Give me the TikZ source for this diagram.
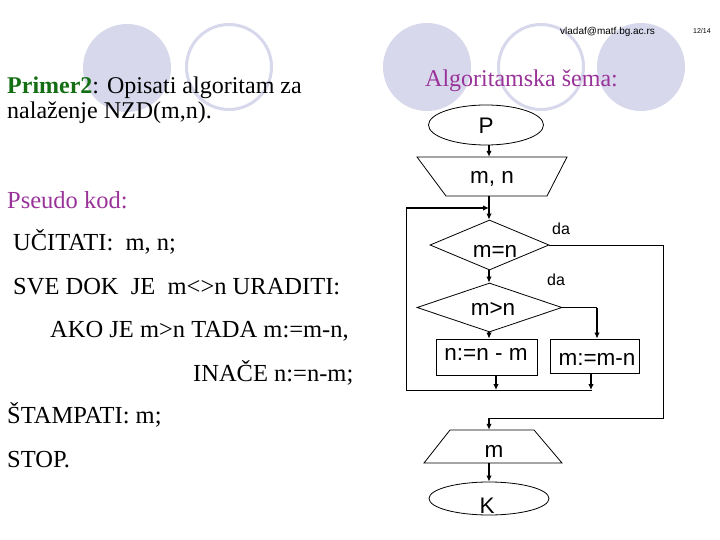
\documentclass[tikz,border=0pt]{standalone}
\usepackage{fontspec}
\setmainfont{Liberation Serif}
\setsansfont{Liberation Sans}
\usetikzlibrary{shapes.geometric,arrows.meta}
\definecolor{circ}{RGB}{216,216,237}
\definecolor{purp}{RGB}{153,51,153}
\definecolor{grn}{RGB}{20,110,20}
\begin{document}
\begin{tikzpicture}[x=1pt,y=-1pt,
  flow/.style={draw, line width=0.8pt, inner sep=0pt},
  ftext/.style={font=\sffamily\fontsize{22.5}{22.5}\selectfont, anchor=base, inner sep=0pt},
  datext/.style={font=\sffamily\fontsize{16}{16}\selectfont, anchor=base, inner sep=0pt},
  ptext/.style={font=\fontsize{24.5}{24.5}\selectfont, anchor=base west, inner sep=0pt},
  arr/.style={-{Latex[length=6pt,width=5.5pt]}, line width=1.4pt},
  ln/.style={line width=0.8pt}]
\useasboundingbox (0,0) rectangle (720,540);
% decorative circles
\fill[circ] (127,68) circle[radius=44];
\draw[circ, line width=3pt] (229,67) circle[radius=42.5];
\fill[circ] (427,67) circle[radius=44];
\draw[circ, line width=3pt] (541,67) circle[radius=42.5];
\fill[circ] (641,67) circle[radius=44];
% header
\node[font=\sffamily\fontsize{10}{10}\selectfont, anchor=base west, inner sep=0pt] (mail) at (560,35) {vladaf@matf.bg.ac.rs};
\node[font=\sffamily\fontsize{7}{7}\selectfont, anchor=base west, inner sep=0pt] (pg) at (693,34) {12/14};
% left text
\node[ptext, font=\fontsize{24}{24}\selectfont] (t1) at (7,94) {{\color{grn}\bfseries Primer2}: Opisati algoritam za};
\node[ptext, font=\fontsize{24}{24}\selectfont] (t2) at (7,119) {nalaženje NZD(m,n).};
\node[ptext, text=purp] (t3) at (7,208) {Pseudo kod:};
\node[ptext] (t4) at (13,251) {UČITATI:\ \ m, n;};
\node[ptext] (t5) at (13,294) {SVE DOK\ \ JE\ \ m<>n URADITI:};
\node[ptext] (t6) at (50,337) {AKO JE m>n TADA m:=m-n,};
\node[ptext] (t7) at (193,381) {INAČE n:=n-m;};
\node[ptext] (t8) at (7,423) {ŠTAMPATI: m;};
\node[ptext] (t9) at (7,467) {STOP.};
\node[ptext, font=\fontsize{24}{24}\selectfont, text=purp] (t10) at (425,87) {Algoritamska šema:};
% flowchart shapes
\node[flow, ellipse, minimum width=115pt, minimum height=40pt] (P) at (486,125) {};
\node[inner sep=0pt, minimum width=150pt, minimum height=39pt] (mn) at (492,176.5) {};
\draw[ln] (417,157) -- (567,157) -- (547,196) -- (446,196) -- cycle;
\node[flow, diamond, minimum width=119pt, minimum height=50pt] (d1) at (489.5,245) {};
\node[flow, diamond, minimum width=145pt, minimum height=49pt] (d2) at (489.5,307.5) {};
\node[flow, rectangle, minimum width=101pt, minimum height=36pt] (bn) at (486.5,357) {};
\node[flow, rectangle, minimum width=89pt, minimum height=34pt] (bm) at (594.5,356) {};
\node[inner sep=0pt, minimum width=138pt, minimum height=33pt] (tm) at (493,446.5) {};
\draw[ln] (450,430) -- (534,430) -- (562,463) -- (424,463) -- cycle;
\node[flow, ellipse, minimum width=120pt, minimum height=33pt] (K) at (489,498.5) {};
% texts in flowchart
\node[ftext] (Pt) at (486,134) {P};
\node[ftext] (mnt) at (492,184) {m, n};
\node[ftext] (d1t) at (495,257) {m=n};
\node[ftext] (d2t) at (493,315) {m>n};
\node[ftext] (bnt) at (486,360) {n:=n - m};
\node[ftext] (bmt) at (597,365) {m:=m-n};
\node[ftext] (tmt) at (494,457) {m};
\node[ftext] (Kt) at (487,513) {K};
\node[datext] (da1) at (561,235) {da};
\node[datext] (da2) at (556,285) {da};
% connectors
\coordinate (cx) at (489,0);
\draw[arr] (P.south -| cx) -- (mn.north -| cx);
\draw[arr] (mn.south -| cx) -- (d1.north -| cx);
\draw[arr] (d1.south -| cx) -- (d2.north -| cx);
\draw[arr] (d2.south -| cx) -- (bn.north -| cx);
% yes branch of m=n
\coordinate (c1) at (663,418);
\draw[ln] (d1.east) -| (c1) -- (c1 -| cx);
\draw[arr] (c1 -| cx) -- (tm.north -| cx);
% yes branch of m>n
\coordinate (c2) at (597,0);
\draw[ln] (d2.east) -- (d2.east -| c2);
\draw[arr] (d2.east -| c2) -- (bm.north -| c2);
% loop back
\coordinate (a1) at (496,390);
\coordinate (a2) at (591,390);
\draw[arr] (bn.south -| a1) -- (a1);
\draw[arr] (bm.south -| a2) -- (a2);
\coordinate (lp1) at (592,390);
\coordinate (lp2) at (406,390);
\coordinate (lp3) at (406,208);
\coordinate (lp4) at (489,208);
\draw[ln] (lp1) -- (lp2) -- (lp3);
\draw[arr] (lp3) -- (lp4);
% end
\draw[arr] (tm.south -| K.north) -- (K.north);
\end{tikzpicture}
\end{document}
